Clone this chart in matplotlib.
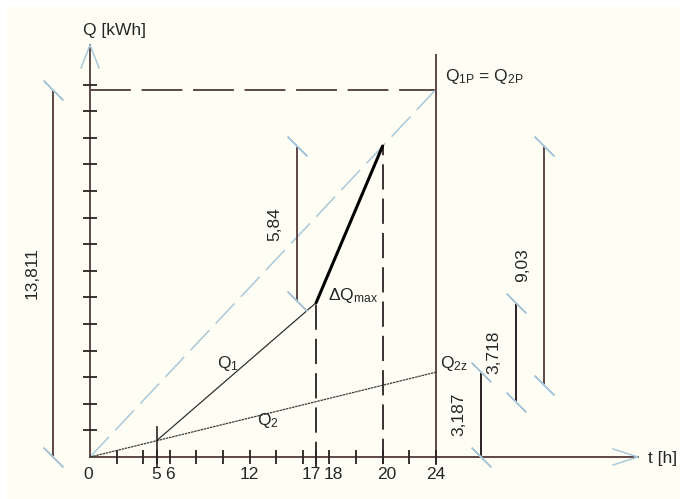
import numpy as np
import matplotlib
matplotlib.use("Agg")
import matplotlib.pyplot as plt
from matplotlib.patches import Rectangle

plt.rcParams['font.family'] = ['Liberation Sans', 'DejaVu Sans']
plt.rcParams['mathtext.default'] = 'regular'

# data: t in h, Q in kWh
T_LABELS = [0, 5, 6, 12, 17, 18, 20, 24]
T_MINOR = [2, 4, 8, 10, 14, 16, 19, 22]
Q_TICKS = list(range(1, 15))
Q2_T = [0, 5, 24]
Q2_Q = [0, 0.61, 3.187]
Q1_T = [5, 17]
Q1_Q = [0.61, 5.80]
PEAK_T = [17, 20]
PEAK_Q = [5.80, 11.69]
T_P = 24
Q_P = 13.811
DIM_LABELS = ['13,811', '5,84', '3,187', '3,718', '9,03']
DIM_LO = [0, 5.85, 0, 2.08, 2.70]
DIM_HI = [13.811, 11.69, 3.187, 5.80, 11.69]

# layout
DIM_X = [-2.76, 15.54, 27.38, 30.0, 32.14]
CREAM = '#fffef5'
BROWN = '#5e4646'
DARK = '#2b2323'
BLUE = '#a9c8d8'
TXT = '#262626'
FS = 12.5

# schematic time axis (not to scale: 18-20 h is stretched)
H = [-100, 0, 18, 20, 24, 100]
U = [-50, 0, 9, 11, 13, 51]
fwd = lambda t: np.interp(t, H, U)
inv = lambda u: np.interp(u, U, H)

fig = plt.figure(figsize=(6.8, 4.99), dpi=100, facecolor='white')
fig.patches.append(Rectangle((7 / 680, 0), 1, 1 - 7 / 499, transform=fig.transFigure,
                             color=CREAM, zorder=-1))
ax = fig.add_axes([0, 0, 1, 1])
ax.axis('off')
ax.set_xscale('function', functions=(fwd, inv))
ax.set_xlim(-6.77, 42.36)
ax.set_ylim(-1.579, 17.18)


def px(x, y, dx, dy):
    p = ax.transData.transform((x, y))
    return ax.transData.inverted().transform(p + np.array([dx, dy]))


Y_TOP, X_END = 15.49, 39.2

# axes
ax.plot([0, 0], [0, Y_TOP], color=BROWN, lw=1.4, zorder=3)
ax.plot([0, X_END], [0, 0], color=BROWN, lw=1.4, zorder=3)
for apex, a, b in [((0, Y_TOP), (-9, -23), (9, -23)), ((X_END, 0), (-25, 8), (-25, -8))]:
    p1 = px(*apex, *a)
    p2 = px(*apex, *b)
    ax.plot([p1[0], apex[0], p2[0]], [p1[1], apex[1], p2[1]], color=BLUE, lw=1.1, zorder=3)

# ticks
ax.plot([0] * len(Q_TICKS), Q_TICKS, ls='none', marker='_', ms=10, mew=1.3, color=DARK, zorder=4)
ax.plot(T_LABELS[1:] + T_MINOR, [0] * (len(T_LABELS) - 1 + len(T_MINOR)), ls='none',
        marker='|', ms=10, mew=1.3, color=DARK, zorder=4)
ax.plot([5, 5], [-0.37, 1.14], color=DARK, lw=1.2, zorder=4)

offs = {0: -2, 17: -5, 18: 4, 20: 4}
for t in T_LABELS:
    ax.annotate(str(t), (t, 0), xytext=(offs.get(t, 0), -18), textcoords='offset pixels',
                ha='center', va='center', fontsize=FS, color=TXT)

# reference lines
ax.plot([0, T_P], [Q_P, Q_P], color=BROWN, lw=1.4, ls=(0, (21, 5.5)), zorder=2)
ax.plot([0, T_P], [0, Q_P], color=BLUE, lw=1.1, ls=(0, (18, 6)), zorder=2)
ax.plot([T_P, T_P], [-0.25, 15.11], color=BROWN, lw=1.4, zorder=2)
ax.plot([17, 17], [-0.37, PEAK_Q[0]], color=DARK, lw=1.3, ls=(0, (14, 5)), zorder=2)
ax.plot([20, 20], [-0.25, PEAK_Q[1]], color=DARK, lw=1.3, ls=(0, (14, 5)), zorder=2)

# load curves
ax.plot(Q2_T, Q2_Q, color='#3a3a3a', lw=0.9, ls=(0, (2, 0.6)), zorder=3)
ax.plot(Q1_T, Q1_Q, color='#303030', lw=0.9, zorder=3)
ax.plot(PEAK_T, PEAK_Q, color='black', lw=2.2, zorder=3, solid_capstyle='round')

# dimension chains
dim_colors = [BROWN, BROWN, DARK, DARK, BROWN]
for lab, x, lo, hi, c in zip(DIM_LABELS, DIM_X, DIM_LO, DIM_HI, dim_colors):
    ax.plot([x, x], [lo, hi], color=c, lw=1.4, zorder=3)
    ax.plot([x, x], [lo, hi], ls='none', marker=(2, 2, 45), ms=20, mew=1.0, color=BLUE, zorder=3)
    ax.annotate(lab, (x, (lo + hi) / 2), xytext=(-21.5, 0), textcoords='offset pixels',
                rotation=90, ha='center', va='center', fontsize=FS, color=TXT)

# labels
ax.text(-0.53, 16.05, 'Q [kWh]', ha='left', va='center', fontsize=FS, color=TXT)
ax.text(39.96, -0.075, 't [h]', ha='left', va='center', fontsize=FS, color=TXT)
ax.text(24.7, 14.29, r'$Q_{1P}$ = $Q_{2P}$', ha='left', va='center', fontsize=FS, color=TXT)
ax.text(24.32, 3.53, r'$Q_{2z}$', ha='left', va='center', fontsize=FS, color=TXT)
ax.text(17.9, 6.09, r'$\Delta Q_{max}$', ha='left', va='center', fontsize=FS, color=TXT)
ax.text(9.55, 3.53, r'$Q_1$', ha='left', va='center', fontsize=FS, color=TXT)
ax.text(12.56, 1.39, r'$Q_2$', ha='left', va='center', fontsize=FS, color=TXT)

fig.savefig('out.png', dpi=100, facecolor=fig.get_facecolor())
